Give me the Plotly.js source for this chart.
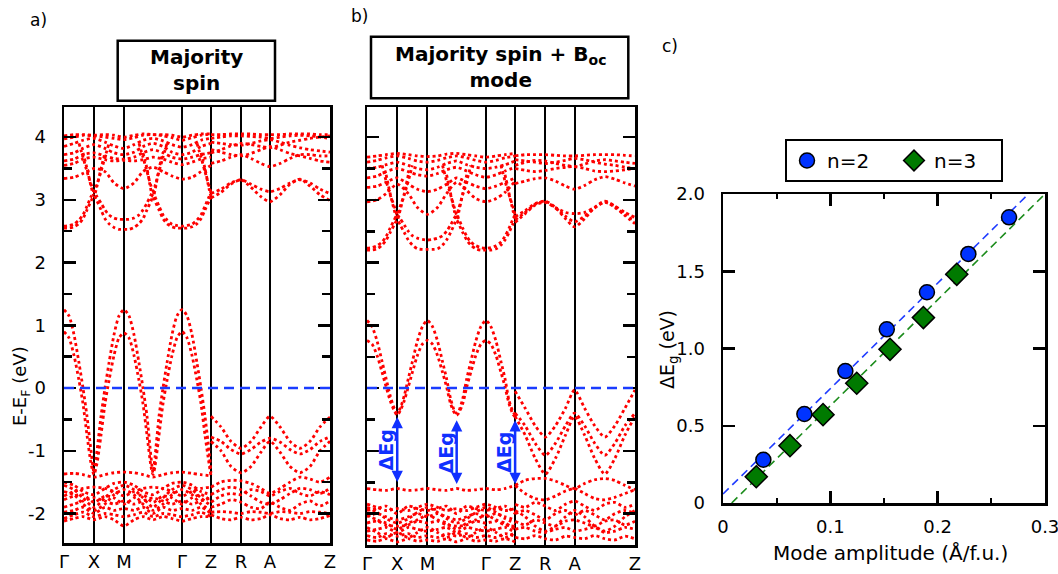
<!DOCTYPE html>
<html><head><meta charset="utf-8">
<script src="https://cdn.plot.ly/plotly-3.0.1.min.js"></script>
<style>body{margin:0;background:#fff}#plot{width:1058px;height:574px}</style>
</head><body><div id="plot"></div>
<script>
// ---------- k-path / tick data ----------
const kTicks = [0, 30, 60, 118, 147, 177, 206, 266];
const kLabels = ['Γ', 'X', 'M', 'Γ', 'Z', 'R', 'A', 'Z'];
const eTicks = [-2, -1, 0, 1, 2, 3, 4];
const eLabels = ['-2', '-1', '0', '1', '2', '3', '4'];
const eMinor = [-1.5, -0.5, 0.5, 1.5, 2.5, 3.5];
const EF = 0;

// sampling grids along the path
const kP = [0,5,10,15,19,23,27,30,33,37,41,45,50,55,60,65,70,75,79,83,87,89,91,95,99,103,108,113,118,123,128,133,137,141,145,147];
const kF = [0,10,19,30,41,50,60,70,79,89,99,108,118,128,137,147];
const kZ = [147,157,167,177,187,197,206,216,226,236,246,256,266];

// ---------- panel a: majority spin ----------
const aV1 = [1.25,1.15,0.85,0.4,0,-0.45,-1.0,-1.35, -1.0,-0.45,0,0.4,0.85,1.15, 1.25, 1.15,0.85,0.4,0,-0.45,-1.1,-1.35,-1.1,-0.45,0,0.4,0.85,1.15, 1.25, 1.15,0.85,0.4,0,-0.45,-1.0,-1.35];
const aV2 = [0.9,0.8,0.52,0.12,-0.25,-0.75,-1.2,-1.38, -1.2,-0.75,-0.25,0.12,0.52,0.8, 0.88, 0.8,0.52,0.12,-0.25,-0.75,-1.25,-1.38,-1.25,-0.75,-0.25,0.12,0.52,0.8, 0.9, 0.8,0.52,0.12,-0.25,-0.75,-1.2,-1.4];
const aC1 = [2.55,2.55,2.57,2.62,2.7,2.84,2.98,3.06, 2.98,2.84,2.7,2.62,2.56,2.53, 2.53, 2.53,2.56,2.62,2.7,2.84,2.98,3.05,2.98,2.84,2.7,2.62,2.57,2.55, 2.55, 2.55,2.57,2.62,2.7,2.84,2.98,3.05];
const aC2 = [2.58,2.59,2.61,2.68,2.76,2.9,3.05,3.14, 3.05,2.95,2.84,2.76,2.71,2.69, 2.69, 2.69,2.71,2.76,2.84,2.95,3.08,3.14,3.05,2.9,2.76,2.68,2.61,2.59, 2.58, 2.59,2.61,2.68,2.76,2.9,3.05,3.12];
const aC3 = [null,null,null,null,3.75,3.5,3.22,3.06, 3.22,3.5,3.75,null,null,null, null, null,null,null,3.75,3.5,3.15,3.05,3.15,3.5,3.75,null,null,null, null, null,null,null,3.75,3.5,3.18,3.05];
const aC3b = [null,null,null,3.9,3.68,3.45,3.25,3.14, 3.25,3.45,3.68,3.9,null,null, null, null,null,3.9,3.68,3.45,3.22,3.14,3.22,3.45,3.68,3.9,null,null, null, null,null,3.9,3.68,3.45,3.22,3.12];
const aC4 = [3.34,3.36,3.42,3.5,3.45,3.27,3.18,3.27,3.45,3.52,3.45,3.38,3.33,3.36,3.45,3.55];
const aC5 = [3.55,3.58,3.65,3.68,3.64,3.62,3.63,3.62,3.64,3.68,3.65,3.6,3.56,3.6,3.65,3.68];
const aC6 = [3.62,3.65,3.72,3.75,3.7,3.66,3.65,3.68,3.75,3.8,3.75,3.68,3.65,3.68,3.72,3.75];
const aC7 = [3.72,3.75,3.82,3.88,3.82,3.75,3.72,3.76,3.85,3.9,3.85,3.76,3.72,3.76,3.85,3.9];
const aC8 = [3.85,3.9,3.95,3.98,3.92,3.86,3.82,3.88,3.95,3.98,3.94,3.88,3.84,3.88,3.95,3.98];
const aC9 = [3.97,4.0,4.03,4.02,4.0,3.98,3.96,3.99,4.03,4.04,4.02,3.99,3.95,3.99,4.03,4.05];
const aC10 = [4.02,4.04,4.04,4.03,4.04,4.03,4.0,4.03,4.05,4.04,4.04,4.03,4.0,4.03,4.05,4.05];
const aL1 = [-1.37,-1.36,-1.38,-1.42,-1.38,-1.35,-1.34,-1.35,-1.38,-1.42,-1.38,-1.35,-1.34,-1.36,-1.38,-1.4];
const aL2 = [-1.55,-1.62,-1.75,-1.9,-1.75,-1.62,-1.55,-1.62,-1.75,-1.9,-1.75,-1.62,-1.55,-1.62,-1.75,-1.88];
const aL3 = [-1.72,-1.65,-1.6,-1.58,-1.6,-1.65,-1.72,-1.65,-1.6,-1.58,-1.6,-1.65,-1.72,-1.65,-1.6,-1.58];
const aL4 = [-1.65,-1.7,-1.85,-1.95,-1.85,-1.7,-1.62,-1.7,-1.85,-1.95,-1.85,-1.7,-1.62,-1.7,-1.85,-1.95];
const aL5 = [-1.9,-1.85,-1.8,-1.75,-1.8,-1.85,-1.8,-1.85,-1.8,-1.75,-1.8,-1.85,-1.8,-1.85,-1.8,-1.75];
const aL6 = [-1.98,-1.95,-1.9,-2.0,-1.9,-1.95,-1.92,-1.95,-1.9,-2.0,-1.9,-1.95,-1.92,-1.95,-1.9,-2.0];
const aL7 = [-2.08,-2.02,-1.98,-2.05,-2.0,-2.02,-2.05,-2.02,-1.98,-2.05,-2.0,-2.02,-2.05,-2.02,-1.98,-2.05];
const aL8 = [-2.12,-2.08,-2.05,-2.1,-2.05,-2.1,-2.2,-2.1,-2.05,-2.1,-2.05,-2.08,-2.12,-2.08,-2.05,-2.05];
const aL9 = [-1.5,-1.55,-1.65,-1.7,-1.6,-1.52,-1.5,-1.55,-1.65,-1.7,-1.6,-1.52,-1.5,-1.55,-1.65,-1.7];
const aL10 = [-1.78,-1.72,-1.7,-1.82,-1.72,-1.75,-1.85,-1.75,-1.7,-1.82,-1.72,-1.75,-1.85,-1.75,-1.7,-1.8];
const aZC1 = [3.03,3.12,3.25,3.32,3.2,3.05,2.97,3.08,3.25,3.33,3.22,3.08,2.99];
const aZC2 = [3.1,3.17,3.27,3.32,3.25,3.17,3.13,3.18,3.27,3.32,3.27,3.17,3.1];
const aZC3 = [3.58,3.62,3.68,3.72,3.66,3.58,3.53,3.58,3.66,3.72,3.72,3.7,3.7];
const aZC4 = [3.8,3.76,3.72,3.7,3.74,3.8,3.85,3.8,3.74,3.7,3.66,3.62,3.6];
const aZC5 = [3.75,3.8,3.86,3.9,3.88,3.85,3.83,3.87,3.92,3.95,3.98,4.0,4.02];
const aZC6 = [3.92,3.9,3.88,3.87,3.9,3.94,3.96,3.92,3.87,3.83,3.8,3.78,3.76];
const aZC7 = [4.04,4.04,4.05,4.05,4.05,4.04,4.04,4.04,4.05,4.05,4.05,4.04,4.04];
const aZC8 = [3.98,4.0,4.02,4.02,4.01,4.0,3.98,4.0,4.02,4.03,4.02,4.0,3.98];
const aZV1 = [-0.45,-0.62,-0.85,-0.96,-0.85,-0.62,-0.45,-0.62,-0.85,-0.96,-0.85,-0.62,-0.46];
const aZV2 = [-0.78,-0.85,-0.98,-1.05,-0.98,-0.86,-0.8,-0.86,-0.98,-1.05,-0.98,-0.85,-0.78];
const aZV3 = [-0.85,-1.0,-1.25,-1.35,-1.25,-1.02,-0.85,-1.02,-1.25,-1.35,-1.25,-1.0,-0.85];
const aZL1 = [-1.58,-1.5,-1.47,-1.48,-1.52,-1.6,-1.68,-1.6,-1.5,-1.42,-1.45,-1.5,-1.42];
const aZL2 = [-1.7,-1.62,-1.58,-1.62,-1.72,-1.82,-1.85,-1.78,-1.68,-1.6,-1.62,-1.68,-1.6];
const aZL3 = [-1.82,-1.72,-1.68,-1.7,-1.62,-1.65,-1.72,-1.65,-1.6,-1.68,-1.72,-1.65,-1.7];
const aZL4 = [-1.9,-1.85,-1.78,-1.82,-1.9,-1.92,-1.82,-1.9,-1.95,-1.85,-1.8,-1.88,-1.8];
const aZL5 = [-1.98,-1.97,-1.98,-2.0,-1.97,-1.98,-2.0,-1.97,-1.98,-2.0,-1.97,-1.98,-2.0];
const aZL6 = [-2.02,-2.08,-2.1,-2.06,-2.1,-2.08,-2.02,-2.08,-2.1,-2.06,-2.1,-2.08,-2.03];

// ---------- panel b: majority spin + B_oc mode ----------
const bV1 = [1.08,0.98,0.75,0.42,0.15,-0.12,-0.32,-0.4, -0.32,-0.12,0.15,0.42,0.75,0.98, 1.08, 0.98,0.75,0.42,0.15,-0.17,-0.37,-0.4,-0.37,-0.17,0.15,0.42,0.75,0.98, 1.08, 0.98,0.75,0.42,0.15,-0.2,-0.38,-0.42];
const bV2 = [0.76,0.7,0.52,0.25,0.02,-0.2,-0.36,-0.43, -0.36,-0.2,0.02,0.25,0.52,0.7, 0.76, 0.7,0.52,0.25,0.02,-0.25,-0.4,-0.43,-0.4,-0.25,0.02,0.25,0.52,0.7, 0.76, 0.7,0.52,0.25,0.02,-0.25,-0.42,-0.46];
const bC1 = [2.2,2.2,2.22,2.28,2.36,2.48,2.6,2.68, 2.6,2.48,2.36,2.28,2.22,2.21, 2.21, 2.21,2.22,2.28,2.36,2.48,2.62,2.68,2.62,2.48,2.36,2.28,2.22,2.2, 2.2, 2.2,2.22,2.28,2.36,2.48,2.62,2.68];
const bC2 = [2.23,2.24,2.27,2.33,2.42,2.55,2.68,2.76, 2.7,2.6,2.5,2.43,2.39,2.37, 2.36, 2.37,2.39,2.43,2.5,2.6,2.72,2.76,2.7,2.55,2.42,2.33,2.27,2.24, 2.23, 2.24,2.27,2.33,2.42,2.55,2.7,2.76];
const bC3 = [null,null,null,null,3.4,3.1,2.84,2.68, 2.84,3.1,3.4,null,null,null, null, null,null,null,3.4,3.1,2.8,2.68,2.8,3.1,3.4,null,null,null, null, null,null,null,3.4,3.1,2.82,2.68];
const bC3b = [null,null,null,3.55,3.3,3.08,2.9,2.76, 2.9,3.08,3.3,3.55,null,null, null, null,null,3.55,3.3,3.08,2.86,2.76,2.86,3.08,3.3,3.55,null,null, null, null,null,3.55,3.3,3.08,2.88,2.76];
const bC4 = [2.97,3.0,3.1,3.25,3.1,2.88,2.77,2.88,3.1,3.28,3.15,3.02,2.97,3.02,3.12,3.3];
const bC5 = [3.2,3.22,3.28,3.35,3.25,3.17,3.13,3.17,3.25,3.35,3.28,3.22,3.18,3.22,3.28,3.35];
const bC6 = [3.35,3.38,3.45,3.5,3.45,3.4,3.38,3.42,3.48,3.52,3.46,3.4,3.36,3.4,3.46,3.52];
const bC7 = [3.5,3.52,3.56,3.6,3.55,3.5,3.48,3.52,3.58,3.62,3.56,3.52,3.5,3.52,3.56,3.62];
const bC8 = [3.6,3.63,3.67,3.7,3.66,3.62,3.6,3.63,3.67,3.7,3.67,3.63,3.6,3.63,3.67,3.7];
const bC9 = [3.68,3.7,3.72,3.74,3.72,3.7,3.69,3.7,3.73,3.74,3.72,3.7,3.68,3.7,3.72,3.74];
const bF1 = [-1.6,-1.62,-1.63,-1.6,-1.63,-1.62,-1.6,-1.62,-1.63,-1.6,-1.63,-1.62,-1.6,-1.62,-1.6,-1.55];
const bL1 = [-1.85,-1.9,-1.95,-1.92,-1.95,-1.9,-1.85,-1.9,-1.95,-1.92,-1.95,-1.9,-1.85,-1.9,-1.95,-1.92];
const bL2 = [-1.95,-1.92,-1.88,-2.0,-1.88,-1.92,-1.95,-1.92,-1.88,-2.0,-1.88,-1.92,-1.95,-1.92,-1.88,-2.0];
const bL3 = [-2.05,-2.0,-2.05,-2.1,-2.05,-2.0,-2.05,-2.0,-2.05,-2.1,-2.05,-2.0,-2.05,-2.0,-2.05,-2.1];
const bL4 = [-2.15,-2.12,-2.18,-2.2,-2.18,-2.12,-2.15,-2.12,-2.18,-2.2,-2.18,-2.12,-2.15,-2.12,-2.18,-2.2];
const bL5 = [-2.28,-2.25,-2.22,-2.3,-2.22,-2.25,-2.28,-2.25,-2.22,-2.3,-2.22,-2.25,-2.28,-2.25,-2.22,-2.3];
const bL6 = [-2.35,-2.38,-2.32,-2.36,-2.32,-2.38,-2.35,-2.38,-2.32,-2.36,-2.32,-2.38,-2.35,-2.38,-2.32,-2.36];
const bL7 = [-2.42,-2.44,-2.4,-2.45,-2.4,-2.44,-2.42,-2.44,-2.4,-2.45,-2.4,-2.44,-2.42,-2.44,-2.4,-2.45];
const bL8 = [-1.9,-1.98,-2.08,-2.15,-2.08,-1.98,-1.9,-1.98,-2.08,-2.15,-2.08,-1.98,-1.9,-1.98,-2.08,-2.15];
const bL9 = [-2.22,-2.3,-2.38,-2.3,-2.38,-2.3,-2.22,-2.3,-2.38,-2.3,-2.38,-2.3,-2.22,-2.3,-2.38,-2.3];
const bL10 = [-2.02,-2.1,-2.15,-2.25,-2.15,-2.1,-2.02,-2.1,-2.15,-2.25,-2.15,-2.1,-2.02,-2.1,-2.15,-2.25];
const bZC1 = [2.73,2.83,2.94,2.98,2.88,2.7,2.57,2.7,2.88,2.98,2.9,2.75,2.62];
const bZC2 = [2.68,2.8,2.93,2.97,2.87,2.74,2.65,2.74,2.87,2.97,2.88,2.76,2.66];
const bZC3 = [2.64,2.78,2.92,2.96,2.88,2.8,2.78,2.8,2.88,2.96,2.9,2.8,2.72];
const bZC4 = [3.26,3.3,3.34,3.35,3.3,3.22,3.17,3.23,3.32,3.37,3.33,3.27,3.22];
const bZC5 = [3.5,3.47,3.45,3.47,3.5,3.52,3.53,3.5,3.46,3.45,3.46,3.48,3.5];
const bZC6 = [3.55,3.6,3.63,3.62,3.58,3.55,3.53,3.57,3.62,3.64,3.62,3.6,3.58];
const bZC7 = [3.64,3.62,3.6,3.58,3.6,3.63,3.66,3.64,3.6,3.57,3.55,3.52,3.5];
const bZC8 = [3.7,3.72,3.72,3.72,3.71,3.7,3.7,3.71,3.72,3.72,3.72,3.71,3.7];
const bZV1 = [-0.05,-0.32,-0.6,-0.78,-0.6,-0.32,-0.03,-0.32,-0.6,-0.78,-0.6,-0.32,-0.03];
const bZV2 = [-0.4,-0.6,-0.88,-1.07,-0.88,-0.6,-0.4,-0.6,-0.88,-1.07,-0.88,-0.6,-0.4];
const bZV3 = [-0.45,-0.75,-1.12,-1.37,-1.12,-0.75,-0.45,-0.75,-1.12,-1.37,-1.12,-0.75,-0.45];
const bZF1 = [-1.55,-1.47,-1.44,-1.44,-1.48,-1.55,-1.6,-1.52,-1.46,-1.44,-1.47,-1.55,-1.62];
const bZF2 = [-1.55,-1.68,-1.76,-1.78,-1.72,-1.64,-1.6,-1.68,-1.76,-1.78,-1.74,-1.68,-1.62];
const bZL1 = [-1.85,-1.9,-1.82,-1.88,-1.95,-1.85,-1.8,-1.88,-1.95,-1.85,-1.82,-1.9,-1.85];
const bZL2 = [-2.0,-1.95,-2.02,-2.1,-2.0,-1.95,-2.02,-1.95,-2.02,-2.1,-2.0,-1.95,-2.0];
const bZL3 = [-2.12,-2.18,-2.1,-2.15,-2.2,-2.12,-2.1,-2.15,-2.2,-2.12,-2.1,-2.18,-2.12];
const bZL4 = [-2.25,-2.22,-2.28,-2.3,-2.25,-2.22,-2.28,-2.25,-2.22,-2.3,-2.28,-2.22,-2.25];
const bZL5 = [-2.38,-2.4,-2.35,-2.4,-2.42,-2.36,-2.38,-2.4,-2.35,-2.4,-2.42,-2.36,-2.4];
const bZL6 = [-1.95,-2.05,-2.2,-2.28,-2.2,-2.05,-1.95,-2.05,-2.2,-2.28,-2.2,-2.05,-1.95];

// gap arrows in panel b
const gapK = [30, 89, 147];
const gapTop = [-0.46, -0.51, -0.51];
const gapBottom = [-1.52, -1.55, -1.55];

// ---------- panel c: gap vs mode amplitude ----------
const n2Amp = [0.0376, 0.0758, 0.114, 0.1526, 0.190, 0.2286, 0.2665];
const n2Gap = [0.28, 0.576, 0.854, 1.124, 1.364, 1.612, 1.849];
const n3Amp = [0.031, 0.0624, 0.0932, 0.1246, 0.1556, 0.1867, 0.2178];
const n3Gap = [0.17, 0.371, 0.572, 0.775, 0.995, 1.2, 1.48];
const fit2Amp = [0, 0.2846], fit2Gap = [0.058, 2.0];
const fit3Amp = [0.0081, 0.3], fit3Gap = [0, 2.0];
const cXTicks = [0, 0.1, 0.2, 0.3], cXLabels = ['0', '0.1', '0.2', '0.3'], cXMinor = [0.05, 0.15, 0.25];
const cYTicks = [0, 0.5, 1, 1.5, 2], cYLabels = ['0', '0.5', '1.0', '1.5', '2.0'];

// ---------- build ----------
const RED = '#ff0000';
function band(xa, ya, k, e) {
  return {type:'scatter', mode:'lines', x:k, y:e, xaxis:xa, yaxis:ya, connectgaps:false,
    line:{color:RED, width:2.8, dash:'dot', shape:'spline', smoothing:0.7},
    hoverinfo:'skip', showlegend:false};
}
const aBands = [[kP,aV1],[kP,aV2],[kP,aC1],[kP,aC2],[kP,aC3],[kP,aC3b],[kF,aC4],[kF,aC5],[kF,aC6],[kF,aC7],[kF,aC8],[kF,aC9],[kF,aC10],
  [kF,aL1],[kF,aL2],[kF,aL3],[kF,aL4],[kF,aL5],[kF,aL6],[kF,aL7],[kF,aL8],[kF,aL9],[kF,aL10],
  [kZ,aZC1],[kZ,aZC2],[kZ,aZC3],[kZ,aZC4],[kZ,aZC5],[kZ,aZC6],[kZ,aZC7],[kZ,aZC8],[kZ,aZV1],[kZ,aZV2],[kZ,aZV3],
  [kZ,aZL1],[kZ,aZL2],[kZ,aZL3],[kZ,aZL4],[kZ,aZL5],[kZ,aZL6]];
const bBands = [[kP,bV1],[kP,bV2],[kP,bC1],[kP,bC2],[kP,bC3],[kP,bC3b],[kF,bC4],[kF,bC5],[kF,bC6],[kF,bC7],[kF,bC8],[kF,bC9],
  [kF,bF1],[kF,bL1],[kF,bL2],[kF,bL3],[kF,bL4],[kF,bL5],[kF,bL6],[kF,bL7],[kF,bL8],[kF,bL9],[kF,bL10],
  [kZ,bZC1],[kZ,bZC2],[kZ,bZC3],[kZ,bZC4],[kZ,bZC5],[kZ,bZC6],[kZ,bZC7],[kZ,bZC8],[kZ,bZV1],[kZ,bZV2],[kZ,bZV3],
  [kZ,bZF1],[kZ,bZF2],[kZ,bZL1],[kZ,bZL2],[kZ,bZL3],[kZ,bZL4],[kZ,bZL5],[kZ,bZL6]];

const traces = [];
aBands.forEach(b => traces.push(band('x', 'y', b[0], b[1])));
bBands.forEach(b => traces.push(band('x2', 'y2', b[0], b[1])));
traces.push({type:'scatter', mode:'lines', x:fit2Amp, y:fit2Gap, xaxis:'x3', yaxis:'y3', showlegend:false,
  line:{color:'#1f3cff', width:1.6, dash:'8px,5px'}, hoverinfo:'skip'});
traces.push({type:'scatter', mode:'lines', x:fit3Amp, y:fit3Gap, xaxis:'x3', yaxis:'y3', showlegend:false,
  line:{color:'#1c8c1c', width:1.6, dash:'8px,5px'}, hoverinfo:'skip'});
traces.push({type:'scatter', mode:'markers', name:'n=2', x:n2Amp, y:n2Gap, xaxis:'x3', yaxis:'y3',
  marker:{symbol:'circle', size:15, color:'#0033ff', line:{color:'black', width:1.5}}});
traces.push({type:'scatter', mode:'markers', name:'n=3', x:n3Amp, y:n3Gap, xaxis:'x3', yaxis:'y3',
  marker:{symbol:'diamond', size:17, color:'#007a00', line:{color:'black', width:1.5}}});

const W = 1058, H = 574;
const px = v => v / W, py = v => 1 - v / H;
const FONT = '"DejaVu Sans", sans-serif';

function bandX(domain) {
  return {domain, range:[kTicks[0], kTicks[kTicks.length-1]], tickmode:'array', tickvals:kTicks, ticktext:kLabels,
    showgrid:true, gridcolor:'black', gridwidth:2, showline:true, linecolor:'black', linewidth:2.5, mirror:true,
    zeroline:false, ticks:'', tickfont:{size:18}, ticklabelstandoff:1, ticklabeloverflow:'allow', fixedrange:true};
}
function bandY(domain, range, labels) {
  return {domain, range, tickmode:'array', tickvals:eTicks, ticktext:eLabels, showticklabels:labels,
    ticks:'inside', ticklen:12, tickwidth:2.5, tickcolor:'black',
    minor:{tickmode:'array', tickvals:eMinor, ticks:'inside', ticklen:8, tickwidth:2.5, tickcolor:'black'},
    mirror:'ticks', showline:true, linecolor:'black', linewidth:2.5, zeroline:false, showgrid:false,
    tickfont:{size:18}, ticklabelstandoff:12, fixedrange:true};
}

function paperText(text, x, y, size, extra) {
  return Object.assign({text, x:px(x), y:py(y), xref:'paper', yref:'paper', xanchor:'center', yanchor:'middle',
    showarrow:false, font:{size}}, extra || {});
}
const annotations = [
  paperText('a)', 38, 20, 17),
  paperText('b)', 359, 16, 17),
  paperText('c)', 670, 46, 17),
  paperText('<b>Majority<br>spin</b>', 196, 70, 20),
  paperText('<b>Majority spin + B<sub>oc</sub><br>mode</b>', 500, 67, 20),
  paperText('E-E<sub>F</sub> (eV)', 21, 386, 18, {textangle:-90}),
  paperText('ΔE<sub>g</sub> (eV)', 668, 350, 19, {textangle:-90}),
  paperText('Mode amplitude (Å/f.u.)', 890, 553, 20)
];
gapK.forEach((k, i) => {
  annotations.push({x:k, y:gapTop[i], ax:k, ay:gapBottom[i], xref:'x2', yref:'y2', axref:'x2', ayref:'y2', text:'',
    showarrow:true, arrowhead:2, startarrowhead:2, arrowside:'end+start', arrowsize:0.9, startarrowsize:0.9,
    arrowwidth:2.5, arrowcolor:'#1030ff'});
  annotations.push({x:k, y:(gapTop[i] + gapBottom[i]) / 2, xref:'x2', yref:'y2', xshift:-11, text:'<b>ΔEg</b>',
    xanchor:'center', yanchor:'middle', showarrow:false, textangle:-90, font:{size:19, color:'#1030ff'}});
});

const shapes = [
  {type:'line', xref:'x domain', yref:'y', x0:0, x1:1, y0:EF, y1:EF, line:{color:'#1a3cff', width:2.5, dash:'10px,6px'}},
  {type:'line', xref:'x2 domain', yref:'y2', x0:0, x1:1, y0:EF, y1:EF, line:{color:'#1a3cff', width:2.5, dash:'10px,6px'}},
  {type:'rect', xref:'paper', yref:'paper', x0:px(117.7), x1:px(275), y0:py(100.7), y1:py(40.7), line:{color:'black', width:2.5}},
  {type:'rect', xref:'paper', yref:'paper', x0:px(371), x1:px(628.3), y0:py(98.3), y1:py(36.7), line:{color:'black', width:2.5}}
];

const layout = {
  width:W, height:H, margin:{l:0, r:0, t:0, b:0}, paper_bgcolor:'white', plot_bgcolor:'white',
  font:{family:FONT, color:'black'}, hovermode:false,
  xaxis: Object.assign(bandX([px(64), px(330)]), {anchor:'y'}),
  yaxis: Object.assign(bandY([py(543), py(107)], [-2.47, 4.48], true), {anchor:'x'}),
  xaxis2: Object.assign(bandX([px(367), px(635)]), {anchor:'y2'}),
  yaxis2: Object.assign(bandY([py(545), py(107)], [-2.5, 4.48], false), {anchor:'x2'}),
  xaxis3: {domain:[px(723), px(1045)], anchor:'y3', range:[0, 0.3], tickmode:'array', tickvals:cXTicks, ticktext:cXLabels,
    ticks:'inside', ticklen:12, tickwidth:2.5, tickcolor:'black',
    minor:{tickmode:'array', tickvals:cXMinor, ticks:'inside', ticklen:5, tickwidth:2, tickcolor:'black'},
    mirror:'ticks', showline:true, linecolor:'black', linewidth:2.5, zeroline:false, showgrid:false,
    tickfont:{size:18}, ticklabelstandoff:6, ticklabeloverflow:'allow', fixedrange:true},
  yaxis3: {domain:[py(503), py(194)], anchor:'x3', range:[0, 2], tickmode:'array', tickvals:cYTicks, ticktext:cYLabels,
    ticks:'inside', ticklen:12, tickwidth:2.5, tickcolor:'black',
    mirror:'ticks', showline:true, linecolor:'black', linewidth:2.5, zeroline:false, showgrid:false,
    tickfont:{size:18}, ticklabelstandoff:12, fixedrange:true},
  showlegend:true,
  legend:{orientation:'h', x:px(894), xanchor:'center', y:py(139), yanchor:'top', bordercolor:'black', borderwidth:2,
    bgcolor:'white', font:{size:20}, itemwidth:30, entrywidth:62, traceorder:'normal'},
  annotations, shapes
};

Plotly.newPlot('plot', traces, layout, {displayModeBar:false, staticPlot:true});
</script></body></html>
